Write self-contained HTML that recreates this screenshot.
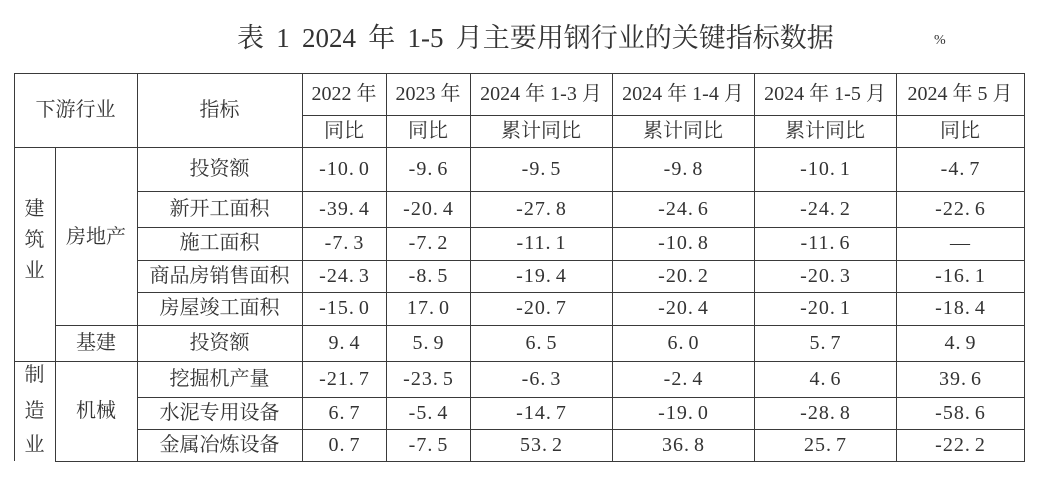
<!DOCTYPE html>
<html>
<head>
<meta charset="utf-8">
<style>
html,body{margin:0;padding:0;background:#fff;}
body{width:1043px;height:483px;position:relative;overflow:hidden;}
.t{position:absolute;text-align:center;white-space:nowrap;font-family:"Liberation Serif","Noto Serif CJK SC",serif;font-size:20px;color:#333;}
.n{letter-spacing:1px;text-indent:1px;}
.n i{font-style:normal;padding-right:4px;}
.h{position:absolute;height:1px;background:#3a3a3a;}
.v{position:absolute;width:1px;background:#3a3a3a;}
.title{position:absolute;left:237px;top:25px;height:27px;line-height:27px;font-size:27px;word-spacing:5.5px;white-space:nowrap;font-family:"Liberation Serif","Noto Serif CJK SC",serif;color:#333;}
.pct{position:absolute;left:934px;top:33px;font-size:14px;line-height:16px;font-family:"Liberation Serif",serif;color:#333;}
</style>
</head>
<body>
<div class="title">表 1 2024 年 1-5 月主要用钢行业的关键指标数据</div>
<div class="pct">%</div>

<!-- vertical lines -->
<div class="v" style="left:14px;top:73px;height:388px"></div>
<div class="v" style="left:55px;top:147px;height:315px"></div>
<div class="v" style="left:137px;top:73px;height:389px"></div>
<div class="v" style="left:302px;top:73px;height:389px"></div>
<div class="v" style="left:386px;top:73px;height:389px"></div>
<div class="v" style="left:470px;top:73px;height:389px"></div>
<div class="v" style="left:612px;top:73px;height:389px"></div>
<div class="v" style="left:754px;top:73px;height:389px"></div>
<div class="v" style="left:896px;top:73px;height:389px"></div>
<div class="v" style="left:1024px;top:73px;height:389px"></div>

<!-- horizontal lines -->
<div class="h" style="left:14px;top:73px;width:1011px"></div>
<div class="h" style="left:302px;top:115px;width:723px"></div>
<div class="h" style="left:14px;top:147px;width:1011px"></div>
<div class="h" style="left:137px;top:191px;width:888px"></div>
<div class="h" style="left:137px;top:227px;width:888px"></div>
<div class="h" style="left:137px;top:260px;width:888px"></div>
<div class="h" style="left:137px;top:292px;width:888px"></div>
<div class="h" style="left:55px;top:325px;width:970px"></div>
<div class="h" style="left:14px;top:361px;width:1011px"></div>
<div class="h" style="left:137px;top:397px;width:888px"></div>
<div class="h" style="left:137px;top:429px;width:888px"></div>
<div class="h" style="left:55px;top:461px;width:970px"></div>

<!-- header -->
<div class="t" style="left:14px;top:73px;width:123px;height:74px;line-height:74px">下游行业</div>
<div class="t" style="left:137px;top:73px;width:165px;height:74px;line-height:74px">指标</div>

<div class="t" style="left:302px;top:73px;width:84px;height:42px;line-height:42px">2022 年</div>
<div class="t" style="left:386px;top:73px;width:84px;height:42px;line-height:42px">2023 年</div>
<div class="t" style="left:470px;top:73px;width:142px;height:42px;line-height:42px">2024 年 1-3 月</div>
<div class="t" style="left:612px;top:73px;width:142px;height:42px;line-height:42px">2024 年 1-4 月</div>
<div class="t" style="left:754px;top:73px;width:142px;height:42px;line-height:42px">2024 年 1-5 月</div>
<div class="t" style="left:896px;top:73px;width:128px;height:42px;line-height:42px">2024 年 5 月</div>

<div class="t" style="left:302px;top:115px;width:84px;height:32px;line-height:32px">同比</div>
<div class="t" style="left:386px;top:115px;width:84px;height:32px;line-height:32px">同比</div>
<div class="t" style="left:470px;top:115px;width:142px;height:32px;line-height:32px">累计同比</div>
<div class="t" style="left:612px;top:115px;width:142px;height:32px;line-height:32px">累计同比</div>
<div class="t" style="left:754px;top:115px;width:142px;height:32px;line-height:32px">累计同比</div>
<div class="t" style="left:896px;top:115px;width:128px;height:32px;line-height:32px">同比</div>

<!-- first column vertical chars -->
<div class="t" style="left:14px;top:193px;width:41px;height:32px;line-height:32px">建</div>
<div class="t" style="left:14px;top:224px;width:41px;height:32px;line-height:32px">筑</div>
<div class="t" style="left:14px;top:255px;width:41px;height:32px;line-height:32px">业</div>
<div class="t" style="left:14px;top:359px;width:41px;height:32px;line-height:32px">制</div>
<div class="t" style="left:14px;top:395px;width:41px;height:32px;line-height:32px">造</div>
<div class="t" style="left:14px;top:429px;width:41px;height:32px;line-height:32px">业</div>

<!-- second column -->
<div class="t" style="left:55px;top:148px;width:82px;height:178px;line-height:178px">房地产</div>
<div class="t" style="left:55px;top:325px;width:82px;height:36px;line-height:36px">基建</div>
<div class="t" style="left:55px;top:361px;width:82px;height:100px;line-height:100px">机械</div>

<!-- indicator column -->
<div class="t" style="left:137px;top:147px;width:165px;height:44px;line-height:44px">投资额</div>
<div class="t" style="left:137px;top:191px;width:165px;height:36px;line-height:36px">新开工面积</div>
<div class="t" style="left:137px;top:227px;width:165px;height:33px;line-height:33px">施工面积</div>
<div class="t" style="left:137px;top:260px;width:165px;height:32px;line-height:32px">商品房销售面积</div>
<div class="t" style="left:137px;top:292px;width:165px;height:33px;line-height:33px">房屋竣工面积</div>
<div class="t" style="left:137px;top:325px;width:165px;height:36px;line-height:36px">投资额</div>
<div class="t" style="left:137px;top:361px;width:165px;height:36px;line-height:36px">挖掘机产量</div>
<div class="t" style="left:137px;top:397px;width:165px;height:32px;line-height:32px">水泥专用设备</div>
<div class="t" style="left:137px;top:429px;width:165px;height:32px;line-height:32px">金属冶炼设备</div>

<!-- row 1: 投资额 (147-191) -->
<div class="t n" style="left:302px;top:147px;width:84px;height:44px;line-height:44px">-10<i>.</i>0</div>
<div class="t n" style="left:386px;top:147px;width:84px;height:44px;line-height:44px">-9<i>.</i>6</div>
<div class="t n" style="left:470px;top:147px;width:142px;height:44px;line-height:44px">-9<i>.</i>5</div>
<div class="t n" style="left:612px;top:147px;width:142px;height:44px;line-height:44px">-9<i>.</i>8</div>
<div class="t n" style="left:754px;top:147px;width:142px;height:44px;line-height:44px">-10<i>.</i>1</div>
<div class="t n" style="left:896px;top:147px;width:128px;height:44px;line-height:44px">-4<i>.</i>7</div>

<!-- row 2: 新开工面积 (191-227) -->
<div class="t n" style="left:302px;top:191px;width:84px;height:36px;line-height:36px">-39<i>.</i>4</div>
<div class="t n" style="left:386px;top:191px;width:84px;height:36px;line-height:36px">-20<i>.</i>4</div>
<div class="t n" style="left:470px;top:191px;width:142px;height:36px;line-height:36px">-27<i>.</i>8</div>
<div class="t n" style="left:612px;top:191px;width:142px;height:36px;line-height:36px">-24<i>.</i>6</div>
<div class="t n" style="left:754px;top:191px;width:142px;height:36px;line-height:36px">-24<i>.</i>2</div>
<div class="t n" style="left:896px;top:191px;width:128px;height:36px;line-height:36px">-22<i>.</i>6</div>

<!-- row 3: 施工面积 (227-260) -->
<div class="t n" style="left:302px;top:227px;width:84px;height:33px;line-height:33px">-7<i>.</i>3</div>
<div class="t n" style="left:386px;top:227px;width:84px;height:33px;line-height:33px">-7<i>.</i>2</div>
<div class="t n" style="left:470px;top:227px;width:142px;height:33px;line-height:33px">-11<i>.</i>1</div>
<div class="t n" style="left:612px;top:227px;width:142px;height:33px;line-height:33px">-10<i>.</i>8</div>
<div class="t n" style="left:754px;top:227px;width:142px;height:33px;line-height:33px">-11<i>.</i>6</div>
<div class="t" style="left:896px;top:227px;width:128px;height:33px;line-height:33px">—</div>

<!-- row 4: 商品房销售面积 (260-292) -->
<div class="t n" style="left:302px;top:260px;width:84px;height:32px;line-height:32px">-24<i>.</i>3</div>
<div class="t n" style="left:386px;top:260px;width:84px;height:32px;line-height:32px">-8<i>.</i>5</div>
<div class="t n" style="left:470px;top:260px;width:142px;height:32px;line-height:32px">-19<i>.</i>4</div>
<div class="t n" style="left:612px;top:260px;width:142px;height:32px;line-height:32px">-20<i>.</i>2</div>
<div class="t n" style="left:754px;top:260px;width:142px;height:32px;line-height:32px">-20<i>.</i>3</div>
<div class="t n" style="left:896px;top:260px;width:128px;height:32px;line-height:32px">-16<i>.</i>1</div>

<!-- row 5: 房屋竣工面积 (292-325) -->
<div class="t n" style="left:302px;top:292px;width:84px;height:33px;line-height:33px">-15<i>.</i>0</div>
<div class="t n" style="left:386px;top:292px;width:84px;height:33px;line-height:33px">17<i>.</i>0</div>
<div class="t n" style="left:470px;top:292px;width:142px;height:33px;line-height:33px">-20<i>.</i>7</div>
<div class="t n" style="left:612px;top:292px;width:142px;height:33px;line-height:33px">-20<i>.</i>4</div>
<div class="t n" style="left:754px;top:292px;width:142px;height:33px;line-height:33px">-20<i>.</i>1</div>
<div class="t n" style="left:896px;top:292px;width:128px;height:33px;line-height:33px">-18<i>.</i>4</div>

<!-- row 6: 基建 投资额 (325-361) -->
<div class="t n" style="left:302px;top:325px;width:84px;height:36px;line-height:36px">9<i>.</i>4</div>
<div class="t n" style="left:386px;top:325px;width:84px;height:36px;line-height:36px">5<i>.</i>9</div>
<div class="t n" style="left:470px;top:325px;width:142px;height:36px;line-height:36px">6<i>.</i>5</div>
<div class="t n" style="left:612px;top:325px;width:142px;height:36px;line-height:36px">6<i>.</i>0</div>
<div class="t n" style="left:754px;top:325px;width:142px;height:36px;line-height:36px">5<i>.</i>7</div>
<div class="t n" style="left:896px;top:325px;width:128px;height:36px;line-height:36px">4<i>.</i>9</div>

<!-- row 7: 挖掘机产量 (361-397) -->
<div class="t n" style="left:302px;top:361px;width:84px;height:36px;line-height:36px">-21<i>.</i>7</div>
<div class="t n" style="left:386px;top:361px;width:84px;height:36px;line-height:36px">-23<i>.</i>5</div>
<div class="t n" style="left:470px;top:361px;width:142px;height:36px;line-height:36px">-6<i>.</i>3</div>
<div class="t n" style="left:612px;top:361px;width:142px;height:36px;line-height:36px">-2<i>.</i>4</div>
<div class="t n" style="left:754px;top:361px;width:142px;height:36px;line-height:36px">4<i>.</i>6</div>
<div class="t n" style="left:896px;top:361px;width:128px;height:36px;line-height:36px">39<i>.</i>6</div>

<!-- row 8: 水泥专用设备 (397-429) -->
<div class="t n" style="left:302px;top:397px;width:84px;height:32px;line-height:32px">6<i>.</i>7</div>
<div class="t n" style="left:386px;top:397px;width:84px;height:32px;line-height:32px">-5<i>.</i>4</div>
<div class="t n" style="left:470px;top:397px;width:142px;height:32px;line-height:32px">-14<i>.</i>7</div>
<div class="t n" style="left:612px;top:397px;width:142px;height:32px;line-height:32px">-19<i>.</i>0</div>
<div class="t n" style="left:754px;top:397px;width:142px;height:32px;line-height:32px">-28<i>.</i>8</div>
<div class="t n" style="left:896px;top:397px;width:128px;height:32px;line-height:32px">-58<i>.</i>6</div>

<!-- row 9: 金属冶炼设备 (429-461) -->
<div class="t n" style="left:302px;top:429px;width:84px;height:32px;line-height:32px">0<i>.</i>7</div>
<div class="t n" style="left:386px;top:429px;width:84px;height:32px;line-height:32px">-7<i>.</i>5</div>
<div class="t n" style="left:470px;top:429px;width:142px;height:32px;line-height:32px">53<i>.</i>2</div>
<div class="t n" style="left:612px;top:429px;width:142px;height:32px;line-height:32px">36<i>.</i>8</div>
<div class="t n" style="left:754px;top:429px;width:142px;height:32px;line-height:32px">25<i>.</i>7</div>
<div class="t n" style="left:896px;top:429px;width:128px;height:32px;line-height:32px">-22<i>.</i>2</div>
</body>
</html>
